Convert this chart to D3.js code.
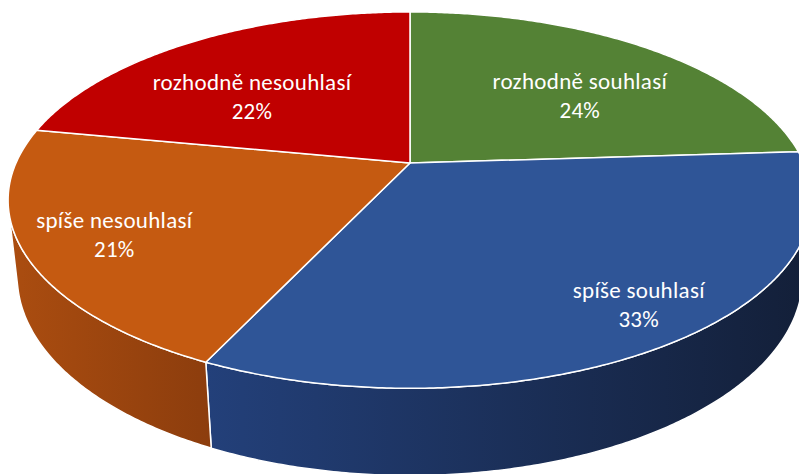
<!DOCTYPE html>
<html>
<head>
<meta charset="utf-8">
<script src="https://cdn.jsdelivr.net/npm/d3@7"></script>
<style>
  body { margin: 0; background: #fff; }
  svg { display: block; }
</style>
</head>
<body>
<svg id="chart" width="799" height="474"></svg>
<script>
// answers, in the order Excel draws them (clockwise from 12 o'clock)
const categories = ["rozhodně souhlasí", "spíše souhlasí", "spíše nesouhlasí", "rozhodně nesouhlasí"];
const shares = [24, 33, 21, 22];
const topColors = ["#548235", "#2F5597", "#C55A11", "#C00000"];
const sideColors = [["#3F6228", "#2E481D"], ["#23407A", "#131F38"], ["#AB4D10", "#8C3D0D"], ["#900000", "#6A0000"]];

// where each label sits on the top face: [angle in degrees, fraction of radius]
const labelSpot = [[49.6, 0.61], [143.8, 0.85], [241.6, 0.79], [311.9, 0.58]];

const width = 799;
const height = 474;

// perspective set-up for the tilted disc
const cx = 410, cy = 163;   // where the pie centre lands on screen
const scaleR = 394;         // half width of the disc at centre depth
const sinP = 0.459, cosP = Math.sqrt(1 - sinP * sinP);
const dist = 4.505;         // camera distance, in radii
const thick = 0.22;         // disc thickness, in radii

const svg = d3.select("#chart");

/** Project a point of the disc (angle clockwise from the back, radius fraction, height) to the screen. */
function project(ang, r, y) {
  const x = r * Math.sin(ang);
  const z = r * Math.cos(ang);
  const den = 1 + (z * cosP - y * sinP) / dist;
  return [cx + scaleR * x / den, cy - scaleR * (y * cosP + z * sinP) / den];
}

function arcPoints(a0, a1, y) {
  const n = Math.max(2, Math.ceil(Math.abs(a1 - a0) / (Math.PI / 360)));
  return d3.range(n + 1).map((i) => project(a0 + (a1 - a0) * i / n, 1, y));
}

const arcs = d3.pie().sort(null).value((d) => d)(shares);

// only the front of the rim faces the camera
const visFrom = Math.acos(-1 / (dist * cosP));
const visTo = 2 * Math.PI - visFrom;

const defs = svg.append("defs");
const line = d3.line();

// sides first
arcs.forEach((d, i) => {
  const a0 = Math.max(d.startAngle, visFrom);
  const a1 = Math.min(d.endAngle, visTo);
  if (a1 <= a0) return;
  const top = arcPoints(a0, a1, 0);
  const bottom = arcPoints(a1, a0, -thick);
  const pts = top.concat(bottom);
  const xs = d3.extent(pts, (p) => p[0]);

  const grad = defs.append("linearGradient")
    .attr("id", "side" + i)
    .attr("gradientUnits", "userSpaceOnUse")
    .attr("x1", xs[0]).attr("x2", xs[1])
    .attr("y1", 0).attr("y2", 0);
  grad.append("stop").attr("offset", 0).attr("stop-color", sideColors[i][0]);
  grad.append("stop").attr("offset", 1).attr("stop-color", sideColors[i][1]);

  svg.append("path")
    .attr("class", "side")
    .attr("d", line(pts) + "Z")
    .attr("fill", `url(#side${i})`)
    .attr("stroke", "#fff")
    .attr("stroke-width", 1.5)
    .attr("stroke-linejoin", "round");
});

// top faces
svg.append("g")
  .selectAll("path")
  .data(arcs)
  .join("path")
  .attr("d", (d) => line([[cx, cy]].concat(arcPoints(d.startAngle, d.endAngle, 0))) + "Z")
  .attr("fill", (d, i) => topColors[i])
  .attr("stroke", "#fff")
  .attr("stroke-width", 1.5)
  .attr("stroke-linejoin", "round");

// labels
const labels = svg.append("g")
  .attr("font-family", "Carlito, Lato, 'Open Sans', sans-serif")
  .attr("font-size", 23)
  .attr("letter-spacing", 0.3)
  .attr("fill", "#fff")
  .attr("text-anchor", "middle");

arcs.forEach((d, i) => {
  const p = project(labelSpot[i][0] * Math.PI / 180, labelSpot[i][1], 0);
  const t = labels.append("text").attr("x", p[0]).attr("y", p[1]);
  t.append("tspan").attr("x", p[0]).attr("dy", -8).text(categories[i]);
  t.append("tspan").attr("x", p[0]).attr("dy", 29).text(shares[i] + "%");
});
</script>
</body>
</html>
